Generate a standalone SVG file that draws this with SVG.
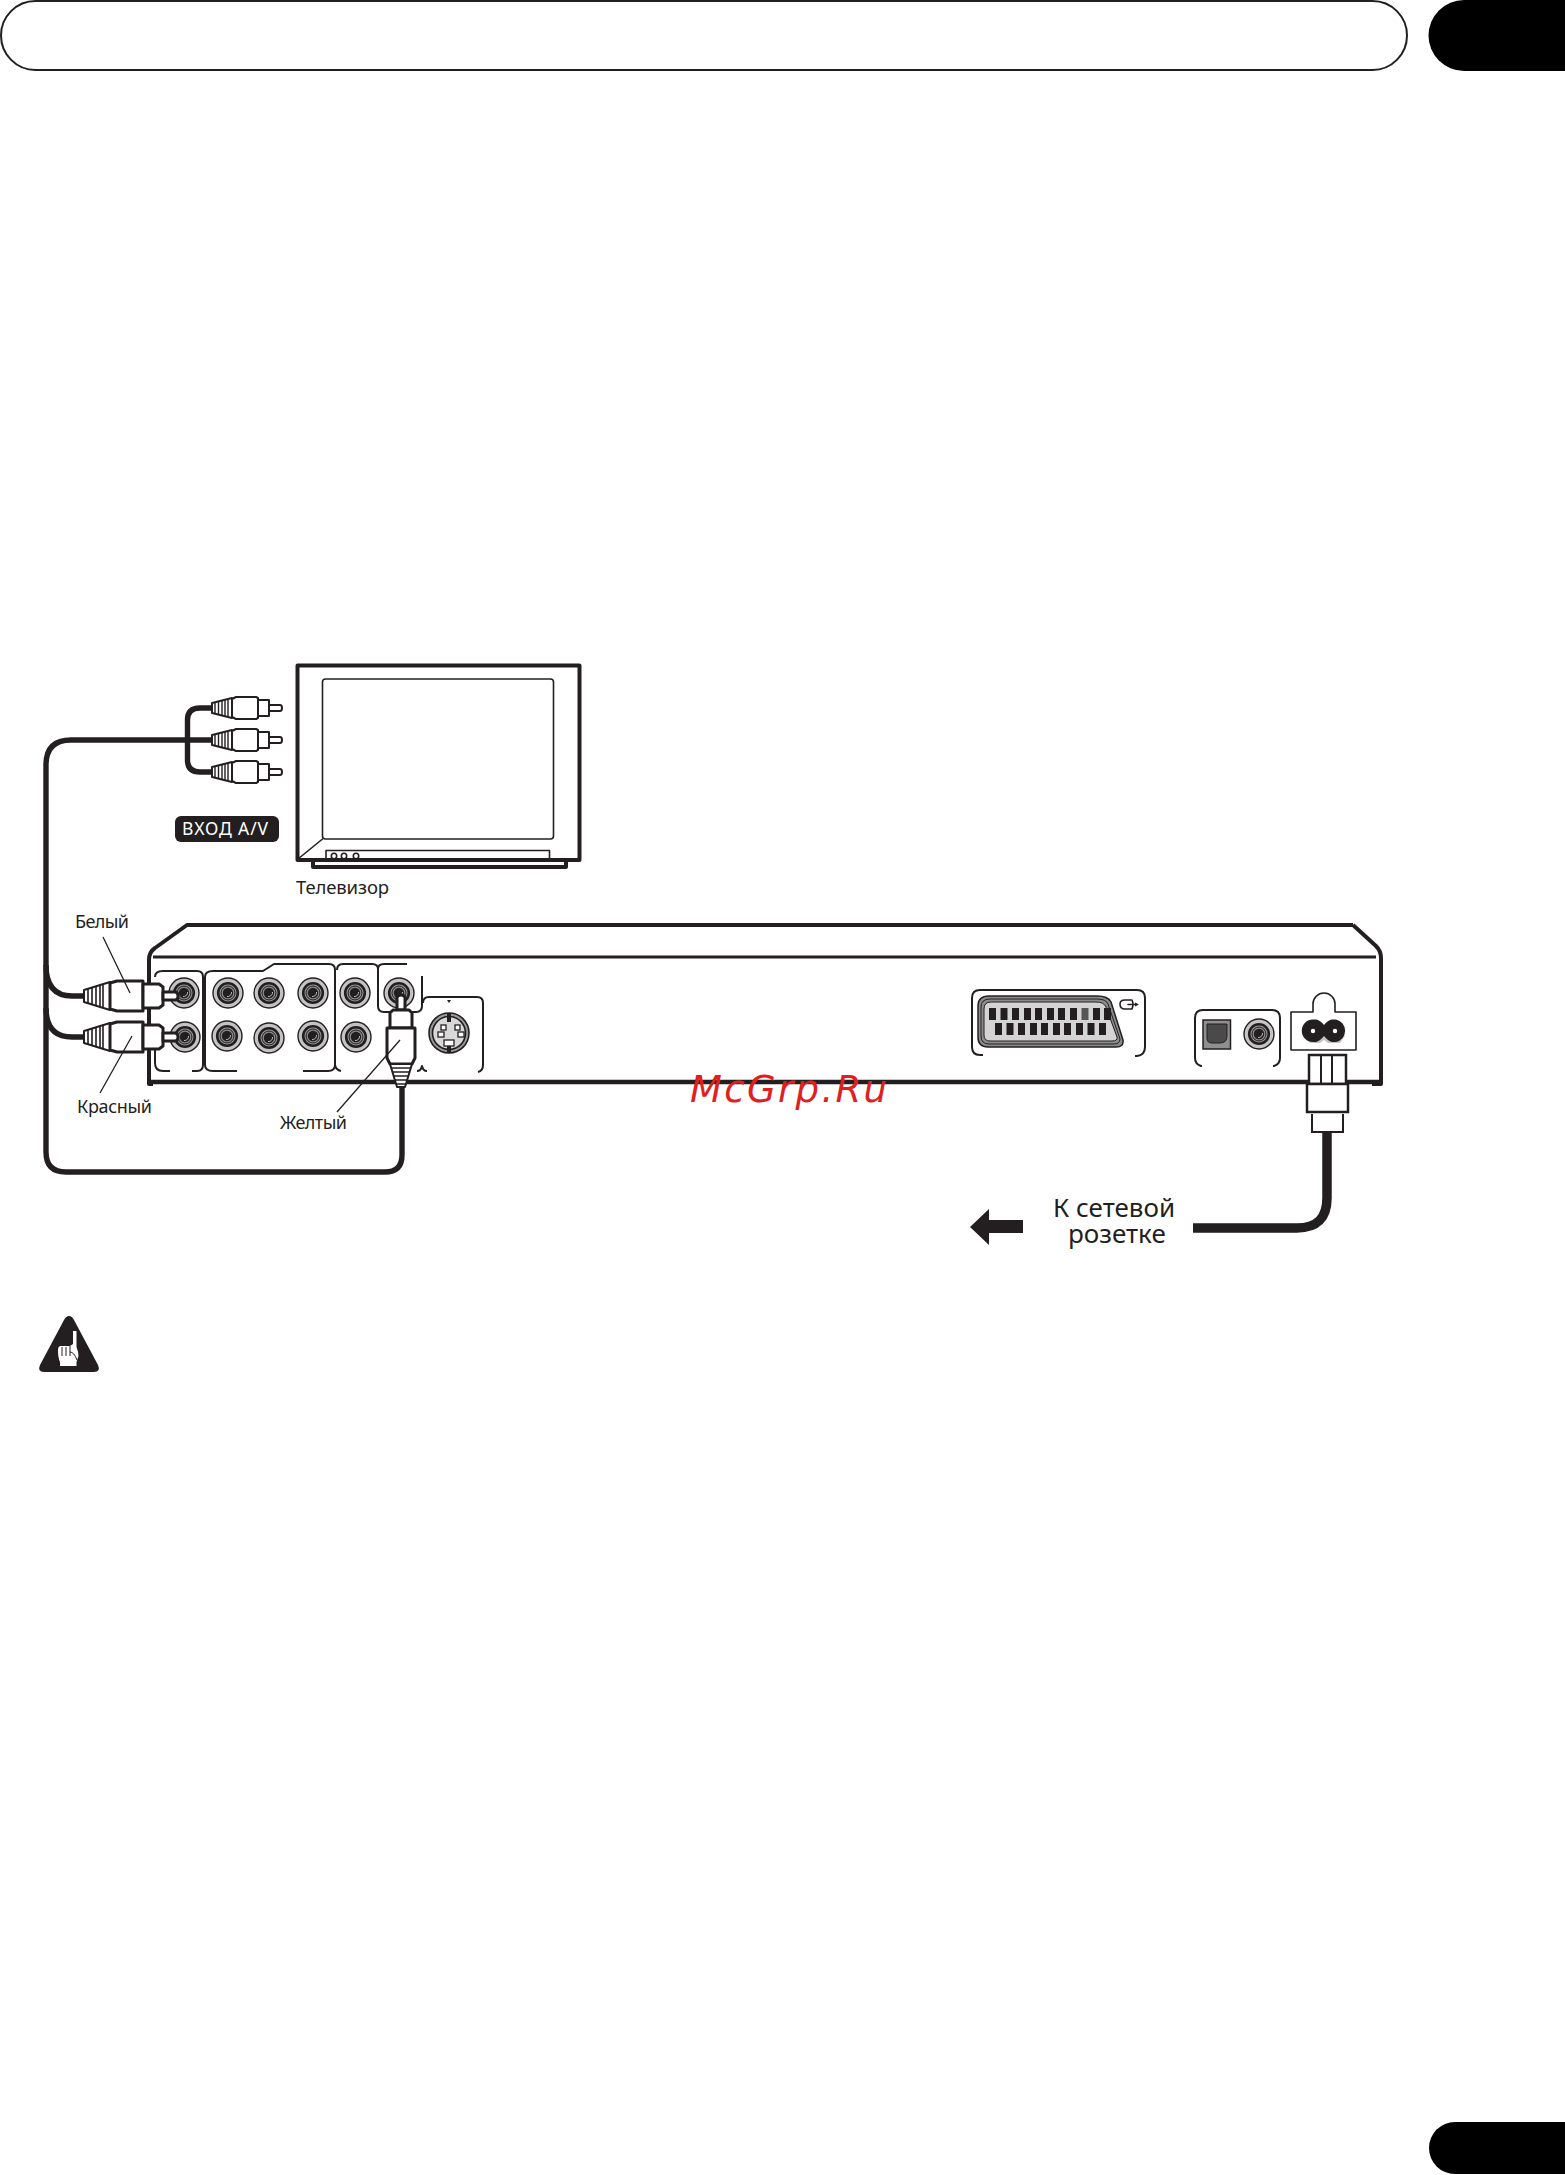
<svg xmlns="http://www.w3.org/2000/svg" width="1565" height="2175" viewBox="0 0 1565 2175">
<style>
text{font-family:"Noto Sans","Open Sans","Liberation Sans",sans-serif;fill:#231f20}
.cable{fill:none;stroke:#231f20;stroke-width:5.400}
.thin{fill:none;stroke:#231f20;stroke-width:1.600;stroke-linecap:round;stroke-linejoin:round}
.mid{fill:none;stroke:#231f20;stroke-width:2;stroke-linejoin:round}
.edge{fill:none;stroke:#231f20;stroke-width:4;stroke-linejoin:round}
.pl{fill:#fff;stroke:#231f20;stroke-width:2;stroke-linejoin:round}
.plk{fill:#fff;stroke:#231f20;stroke-width:3;stroke-linejoin:round}
.leader{fill:none;stroke:#231f20;stroke-width:1.300}
.lbl{font-size:18px}
</style>
<defs>
<g id="jack">
<circle r="15" fill="#c4c4c4" stroke="#231f20" stroke-width="1.400"/>
<circle r="9.800" fill="#9a9a9a" stroke="#231f20" stroke-width="2.600"/>
<circle r="7" fill="#8a8a8a" stroke="#231f20" stroke-width="1"/>
<circle r="5.200" fill="#231f20"/>
<path d="M-1 3.500A4 4 0 0 0 3.500 -1" fill="none" stroke="#bbb" stroke-width="1"/>
</g>
<g id="tvplug">
<path class="pl" d="M0-5 20-10V10L0 5Z"/>
<path d="M3-5V5M6.500-6V6M10-7V7M13-8V8M16-9V9" stroke="#231f20" stroke-width="1.400" fill="none"/>
<path class="pl" d="M20-9 24-11H44L46-10V10L44 11H24L20 9Z"/>
<path class="pl" d="M46-8H57V8H46Z"/>
<path class="pl" d="M57-3H68Q70-3 70 0T68 3H57Z"/>
</g>
<g id="avplug">
<path class="pl" d="M-1-6 25-14V14L-1 6Z"/>
<path d="M3-7V7M7-8V8M11-9V9M15-10V10M18-11V11" stroke="#231f20" stroke-width="1.600" fill="none"/>
<path class="plk" d="M25-13 32-15H58V15H32L25 13Z"/>
<path class="plk" d="M58-12H74L78-9V9L74 12H58Z"/>
<path class="plk" d="M78-4H90Q93-4 93 0T90 4H78Z" stroke-width="2.400"/>
</g>
</defs>
<rect width="1565" height="2175" fill="#fff"/>

<g id="header">
<rect x="1" y="1" width="1406" height="69" rx="34.500" fill="#fff" stroke="#231f20" stroke-width="2"/>
<path d="M1565 0H1464A35.500 35.500 0 0 0 1464 71H1565Z" fill="#000"/>
</g>
<g id="page-tab"><path d="M1565 2122H1455A26 26 0 0 0 1455 2174H1565Z" fill="#000"/></g>

<g id="tv">
<rect x="322.500" y="679" width="231" height="160" rx="3" class="thin"/>
<path class="thin" d="M298 859 322.500 839"/>
<path class="thin" d="M326 859V850.500H549.500V859"/>
<circle cx="334" cy="856" r="2.700" class="thin" stroke-width="1"/><circle cx="344" cy="856" r="2.700" class="thin" stroke-width="1"/><circle cx="356" cy="856" r="2.700" class="thin" stroke-width="1"/>
<rect x="297.500" y="665.500" width="282" height="194.500" class="edge" stroke-width="4.500"/>
<path class="edge" d="M313 861V867H566V861"/>
<text x="296" y="894" font-size="18.500" textLength="93">Телевизор</text>
</g>

<g id="connectors">
<path class="cable" d="M212 740H71Q46 740 46 765V1152Q46 1172 66 1172H385Q402 1172 402 1155V1085"/>
<path class="cable" d="M212 708H200Q187.500 708 187.500 720V760Q187.500 772 200 772H212"/>
<path class="cable" d="M46 965Q46 996 72 996H86"/>
<path class="cable" d="M46 1008Q46 1037 72 1037H86"/>
<path d="M1327 1132V1198Q1327 1228 1297 1228H1193" fill="none" stroke="#231f20" stroke-width="9.500"/>
</g>

<g id="av-input-label">
<rect x="175" y="816" width="104" height="26" rx="6" fill="#231f20"/>
<text x="182" y="835" font-size="17.500" textLength="86" style="fill:#fff">ВХОД A/V</text>
</g>
<g id="tv-plugs">
<use href="#tvplug" x="212" y="708"/>
<use href="#tvplug" x="212" y="740"/>
<use href="#tvplug" x="212" y="772"/>
</g>

<g id="player">
<path class="edge" d="M1353 925H187L155 948Q149 952 149 960V1084H153"/>
<path class="edge" d="M1353 925 1376 946Q1381 951 1381 958V1084H1372"/>
<path d="M150 1082H1381" stroke="#231f20" stroke-width="4.400" fill="none"/>
<path d="M153 957H1376" stroke="#231f20" stroke-width="3.200" fill="none"/>

<g id="panels">
<path class="mid" d="M155 1050V1063Q155 1071 163 1071H170M192 1071H197Q203 1071 203 1065V977Q203 971 197 971H163Q155 971 155 977"/>
<path class="mid" d="M237 1071H213Q205 1071 205 1065V977Q205 971 213 971H263L274 964H329Q335 964 335 970V1065Q335 1071 328 1071H303M335 1065Q336 1070 341 1071"/>
<path class="mid" d="M337 970Q337 964 343 964H372Q378 964 378 969M378 969V1006Q378 1012 384 1012H390M378 969Q378 964 384 964H407"/>
<path class="mid" d="M422 976V1006Q422 1012 416 1012H412M417 1071Q421 1071 422 1066Q423 1071 427 1071"/>
<path class="mid" d="M423 1003Q423 997 429 997H477Q483 997 483 1003V1065Q483 1071 478 1072"/>
<path d="M447 1000H451L449 1003Z" fill="#231f20"/>
<path class="mid" d="M983 1055H980Q972 1055 972 1047V998Q972 990 980 990H1137Q1145 990 1145 998V1047Q1145 1055 1137 1056H1135"/>
<path class="mid" d="M1202 1066H1201Q1195 1064 1195 1058V1018Q1195 1010 1203 1010H1272Q1280 1010 1280 1018V1058Q1280 1064 1274 1066H1273"/>
</g>
<g id="jacks">
<use href="#jack" x="184" y="993"/><use href="#jack" x="228" y="993"/><use href="#jack" x="269" y="993"/><use href="#jack" x="313" y="993"/><use href="#jack" x="355" y="993"/><use href="#jack" x="399" y="993"/>
<use href="#jack" x="185" y="1037"/><use href="#jack" x="227" y="1036"/><use href="#jack" x="269" y="1038"/><use href="#jack" x="313" y="1036"/><use href="#jack" x="356" y="1037"/>
</g>
<g id="svideo">
<circle cx="449" cy="1033" r="20" fill="#9a9a9a" stroke="#231f20" stroke-width="1.600"/>
<circle cx="449" cy="1033" r="16.500" fill="#d8d8d8" stroke="#231f20" stroke-width="1.600"/>
<path d="M447 1013H451V1022H447ZM447 1044H451V1053H447Z" fill="#231f20"/>
<g fill="#fff" stroke="#231f20" stroke-width="1.300"><rect x="441" y="1025" width="5" height="5"/><rect x="455" y="1025" width="5" height="5"/><rect x="438" y="1032" width="6" height="5"/><rect x="458" y="1032" width="6" height="5"/><rect x="444" y="1040" width="10" height="6"/></g>
</g>
<g id="scart">
<path d="M989 996H1097Q1108 996 1111 1002L1123 1040Q1124 1047 1116 1047H988Q978 1047 978 1037V1006Q978 996 989 996Z" fill="#8c8c8c" stroke="#231f20" stroke-width="1.500"/>
<path d="M990 999H1097Q1106 999 1108 1004L1120 1039Q1120 1044 1114 1044H989Q981 1044 981 1036V1007Q981 999 990 999Z" fill="none" stroke="#231f20" stroke-width="1"/>
<path d="M991 1002H1096Q1104 1002 1106 1007L1117 1037Q1118 1041 1112 1041H990Q984 1041 984 1035V1009Q984 1002 991 1002Z" fill="#d4d4d4" stroke="#231f20" stroke-width="1"/>
<g fill="#231f20">
<rect x="989" y="1008" width="7" height="12"/><rect x="1000.500" y="1008" width="7" height="12"/><rect x="1012" y="1008" width="7" height="12"/><rect x="1024" y="1008" width="7" height="12"/><rect x="1035" y="1008" width="7" height="12"/><rect x="1047" y="1008" width="7" height="12"/><rect x="1058" y="1008" width="7" height="12"/><rect x="1070" y="1008" width="7" height="12"/><rect x="1081.500" y="1008" width="7" height="12" fill="#555"/><rect x="1093" y="1008" width="7" height="12"/><rect x="1104" y="1008" width="7" height="12"/>
<rect x="995" y="1023" width="7" height="12"/><rect x="1006.500" y="1023" width="7" height="12"/><rect x="1018" y="1023" width="7" height="12"/><rect x="1030" y="1023" width="7" height="12"/><rect x="1041" y="1023" width="7" height="12"/><rect x="1053" y="1023" width="7" height="12"/><rect x="1064" y="1023" width="7" height="12"/><rect x="1076" y="1023" width="7" height="12"/><rect x="1087.500" y="1023" width="7" height="12"/><rect x="1099" y="1023" width="7" height="12"/>
</g>
<path class="thin" stroke-width="1.200" d="M1132 1000H1125Q1120 1000 1120 1004Q1120 1009 1125 1009H1132Q1134 1004 1132 1000ZM1128 1004.500H1136"/>
<path d="M1135 1002.500 1139 1004.500 1135 1006.500Z" fill="#231f20"/>
</g>
<g id="optical">
<rect x="1203" y="1020" width="27.500" height="29" fill="#8f8f8f" stroke="#231f20" stroke-width="1.500"/>
<path d="M1207 1024H1227V1036Q1227 1043 1220 1043H1212Q1207 1043 1207 1038Z" fill="#4a4a4a" stroke="#231f20"/>
</g>
<use href="#jack" x="1259" y="1034"/>
<g id="ac-inlet">
<path class="thin" d="M1291 1012H1313V1004A11 11 0 0 1 1335 1004V1012H1356V1050H1291Z"/>
<path d="M1304 1036H1345L1340 1043H1328L1324 1040 1320 1043H1310Z" fill="#c4c4c4"/>
<path d="M1313 1019.500H1316Q1320 1020 1324 1025Q1328 1020 1332 1019.500H1336A11.500 11.500 0 0 1 1336 1042H1332Q1328 1041 1324 1036Q1320 1041 1316 1042H1313A11.200 11.200 0 0 1 1313 1019.500Z" fill="#231f20"/>
<circle cx="1313" cy="1031" r="2.200" fill="#fff"/><circle cx="1335" cy="1031" r="2.200" fill="#fff"/>
</g>
</g>

<g id="power-plug">
<rect x="1309" y="1055" width="37" height="29" fill="#fff" stroke="#231f20" stroke-width="2.500"/>
<path d="M1321 1055V1084M1332 1055V1084" stroke="#231f20" stroke-width="2"/>
<rect x="1307" y="1084" width="41" height="28" fill="#fff" stroke="#231f20" stroke-width="2.500"/>
<path d="M1312 1114V1132H1343V1114" fill="#fff" stroke="#231f20" stroke-width="2"/>
</g>

<g id="av-plugs">
<g id="plug-white"><use href="#avplug" x="85" y="996"/></g>
<g id="plug-red"><use href="#avplug" x="85" y="1037"/></g>
<g id="plug-yellow">
<path class="plk" d="M397 1010V998Q397 995 401 995T405 998V1010Z" stroke-width="2.400"/>
<path class="plk" d="M390 1028V1013L393 1010H409L412 1013V1028Z"/>
<path class="plk" d="M387 1028H415V1058L412 1064H390L387 1058Z"/>
<path class="pl" d="M390 1064H412L405 1087H397Z"/>
<path d="M391.500 1068H410.500M393 1072H409M394 1076H408M395 1080H407M396 1084H406" stroke="#231f20" stroke-width="1.400" fill="none"/>
</g>
</g>
<g id="leaders">
<path class="leader" d="M103 937 130 993M100 1093 132 1036M337 1112 400 1040"/>
</g>
<text id="label-white" class="lbl" x="75" y="928" textLength="54">Белый</text>
<text id="label-red" class="lbl" x="77" y="1113" textLength="75">Красный</text>
<text id="label-yellow" class="lbl" x="280" y="1129" textLength="67">Желтый</text>

<g id="mains">
<path d="M970 1227 989 1209V1220H1023V1233H989V1245Z" fill="#231f20"/>
<text font-size="26"><tspan x="1053" y="1217">К сетевой</tspan><tspan x="1068" y="1243">розетке</tspan></text>
</g>

<g id="notice">
<path d="M69 1316Q72 1316 74 1320L98 1365Q101 1372 94 1372H44Q37 1372 40 1365L64 1320Q66 1316 69 1316Z" fill="#231f20"/>
<path d="M73 1331H76.500V1347Q78.500 1352 78.500 1356L76.500 1362V1366H60V1362Q58 1358 58 1350Q58 1346 61 1346H70L73 1344Z" fill="#fff"/>
<path d="M62 1347V1356M66 1347V1356M70 1346V1356M70 1352Q74 1352 77 1360" fill="none" stroke="#231f20" stroke-width="1"/>
</g>

<text id="watermark" x="690" y="1102" font-size="37" textLength="197" style="font-family:'DejaVu Sans',sans-serif;font-style:italic;fill:#e0201f">McGrp.Ru</text>
</svg>
